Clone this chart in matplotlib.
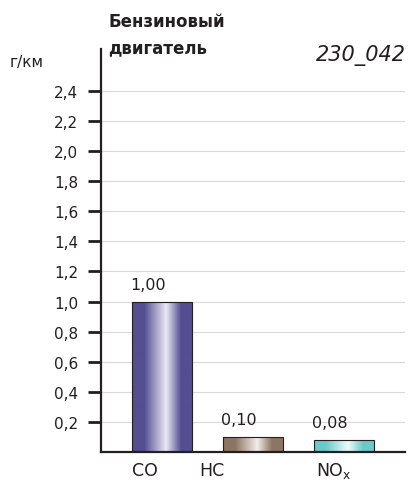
import numpy as np
import matplotlib
matplotlib.use('Agg')
import matplotlib.pyplot as plt
from matplotlib.colors import LinearSegmentedColormap

# data
categories = ['CO', 'HC', 'NO$_\\mathregular{x}$']
values = [1.00, 0.10, 0.08]
value_labels = ['1,00', '0,10', '0,08']
yticks = [0.2, 0.4, 0.6, 0.8, 1.0, 1.2, 1.4, 1.6, 1.8, 2.0, 2.2, 2.4]
ytick_labels = ['0,2', '0,4', '0,6', '0,8', '1,0', '1,2', '1,4', '1,6', '1,8', '2,0', '2,2', '2,4']
dark_cols = ['#544e92', '#8c7565', '#6cc9c9']
light_cols = ['#ebe8f4', '#f2ede8', '#f0fbfb']

plt.rcParams['font.family'] = ['DejaVu Sans']
plt.rcParams['mathtext.fontset'] = 'dejavusans'
ink = '#231f20'

fig = plt.figure(figsize=(4.09, 4.81), dpi=100)
ax = fig.add_axes([101/409, 1-453/481, 304/409, 403/481])

width = 0.66
x = np.arange(len(values))
bars = ax.bar(x, values, width=width, color='none', edgecolor=ink, lw=0.8, zorder=3)

# cylinder shading
prof = np.linspace(0, 1, 200)
for b, dc, lc in zip(bars, dark_cols, light_cols):
    cmap = LinearSegmentedColormap.from_list('c', [(0, dc), (0.2, dc), (0.57, lc), (0.82, dc), (1, dc)])
    im = ax.imshow(prof[None, :], cmap=cmap, aspect='auto',
                   extent=[b.get_x(), b.get_x()+b.get_width(), 0, b.get_height()], zorder=2)
    im.set_clip_path(b)

for b, lab in zip(bars, value_labels):
    ax.text(b.get_x()-0.02, b.get_height()+0.065, lab, ha='left', va='bottom', fontsize=11.5, color=ink)

# category labels (placed like the original, not centred)
cat_x = [-0.33, 0.40, 1.69]
for cx, c in zip(cat_x, categories):
    ax.text(cx, -0.15, c, ha='left', va='baseline', fontsize=12.5, color=ink)

ax.set_xlim(-0.676, 2.67)
ax.set_ylim(0, 2.678)
ax.set_xticks([])
ax.set_yticks(yticks)
ax.set_yticklabels(ytick_labels, fontsize=11, color=ink)
ax.tick_params(axis='y', length=9.5, width=2, color=ink, pad=7)
ax.grid(axis='y', color='#d9d9d9', lw=0.8, zorder=0)
ax.set_axisbelow(True)
for s in ['top', 'right']:
    ax.spines[s].set_visible(False)
for s in ['left', 'bottom']:
    ax.spines[s].set_linewidth(1.6)
    ax.spines[s].set_color(ink)

fig.text(108/409, 1-22/481, 'Бензиновый', fontsize=12, fontweight='bold', va='center', ha='left', color=ink)
fig.text(108/409, 1-48/481, 'двигатель', fontsize=12, fontweight='bold', va='center', ha='left', color=ink)
fig.text(10/409, 1-62/481, 'г/км', fontsize=11, va='center', ha='left', color=ink)
fig.text(406/409, 1-56/481, '230_042', fontsize=15, style='italic', va='center', ha='right', color=ink)

fig.savefig('out.png', dpi=100)
